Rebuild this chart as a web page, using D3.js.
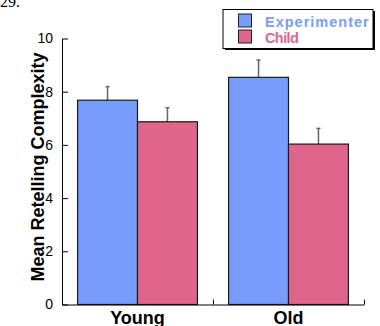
<!DOCTYPE html>
<html>
<head>
<meta charset="utf-8">
<script src="https://cdn.jsdelivr.net/npm/d3@7"></script>
<style>
  body { margin: 0; background: #fff; }
  svg { display: block; font-family: "Liberation Sans", Arial, sans-serif; }
</style>
</head>
<body>
<div class="chart-container"></div>
<script>
// Data
var groups = ["Young", "Old"];
var series = ["Experimenter", "Child"];
var experimenterMeans = [7.68, 8.54];
var childMeans = [6.87, 6.03];
var experimenterErr = [0.51, 0.65];
var childErr = [0.53, 0.59];
var yTicks = [0, 2, 4, 6, 8, 10];

var colors = { Experimenter: "#789cfb", Child: "#df658a" };

var W = 380, H = 326;
var x0 = 62, x1 = 364, yBottom = 304.5, yTop = 38.5;

var svg = d3.select(".chart-container").append("svg")
    .attr("width", W)
    .attr("height", H);

// Scales
var x = d3.scaleBand().domain(groups).range([x0, x1]).paddingInner(0).paddingOuter(0);
var xs = d3.scaleBand().domain(series).range([0, x.bandwidth()]).paddingOuter(0.26).paddingInner(0);
var y = d3.scaleLinear().domain([0, 10]).range([yBottom, yTop]);

// Build rows for bars
var rows = [];
groups.forEach(function(g, i) {
    rows.push({ group: g, series: "Experimenter", value: experimenterMeans[i], err: experimenterErr[i] });
    rows.push({ group: g, series: "Child", value: childMeans[i], err: childErr[i] });
});

// Error bars (upward only)
var eb = svg.append("g").attr("class", "errors")
    .attr("stroke", "#666").attr("stroke-width", 1.5);
rows.forEach(function(d) {
    var cx = x(d.group) + xs(d.series) + xs.bandwidth() / 2;
    eb.append("line")
        .attr("x1", cx).attr("x2", cx)
        .attr("y1", y(d.value)).attr("y2", y(d.value + d.err));
    eb.append("line")
        .attr("x1", cx - 2).attr("x2", cx + 2)
        .attr("y1", y(d.value + d.err)).attr("y2", y(d.value + d.err));
});

// Bars
svg.append("g").selectAll("rect")
    .data(rows)
    .enter().append("rect")
    .attr("x", function(d) { return x(d.group) + xs(d.series); })
    .attr("width", xs.bandwidth())
    .attr("y", function(d) { return y(d.value); })
    .attr("height", function(d) { return yBottom - y(d.value); })
    .attr("fill", function(d) { return colors[d.series]; })
    .attr("stroke", "#1a1a1a")
    .attr("stroke-width", 1.2);

// Y axis, ticks pointing inward
var yAxis = svg.append("g")
    .attr("transform", "translate(" + x0 + ",0)")
    .call(d3.axisLeft(y).tickValues(yTicks).tickSizeInner(-6).tickSizeOuter(0).tickPadding(9));
yAxis.selectAll("text").attr("font-size", 14).attr("fill", "#000").attr("font-family", "Liberation Sans, Arial, sans-serif");
yAxis.selectAll("line, path").attr("stroke", "#000");

// X axis: boundary ticks pointing up
var xEdge = d3.scaleLinear().domain([0, groups.length]).range([x0, x1]);
var xAxis = svg.append("g")
    .attr("transform", "translate(0," + yBottom + ")")
    .call(d3.axisBottom(xEdge).tickValues([0, 1, 2]).tickSizeInner(-5).tickSizeOuter(0).tickFormat(""));
xAxis.selectAll("line, path").attr("stroke", "#000");

// X labels
var xLabels = svg.append("g")
    .attr("transform", "translate(0," + yBottom + ")")
    .call(d3.axisBottom(x).tickSize(0).tickPadding(7));
xLabels.select(".domain").remove();
xLabels.selectAll("text")
    .attr("font-size", 18).attr("font-weight", "bold").attr("fill", "#000")
    .attr("font-family", "Liberation Sans, Arial, sans-serif");

// Y label
svg.append("text")
    .attr("transform", "translate(44," + 167 + ") rotate(-90)")
    .attr("text-anchor", "middle")
    .attr("font-size", 18)
    .attr("font-weight", "bold")
    .text("Mean Retelling Complexity");

// Legend with drop shadow
var lg = svg.append("g").attr("class", "legend");
lg.append("rect").attr("x", 225).attr("y", 11).attr("width", 150).attr("height", 39).attr("fill", "#000");
lg.append("rect").attr("x", 223).attr("y", 9.5).attr("width", 150).attr("height", 39)
    .attr("fill", "#fff").attr("stroke", "#000").attr("stroke-width", 1);
series.forEach(function(s, i) {
    lg.append("rect")
        .attr("x", 238.5).attr("y", 14 + i * 16)
        .attr("width", 13).attr("height", 13)
        .attr("fill", colors[s]).attr("stroke", "#222").attr("stroke-width", 1);
    lg.append("text")
        .attr("x", 265).attr("y", 26.5 + i * 16)
        .attr("font-size", 14.5).attr("font-weight", "bold")
        .attr("letter-spacing", i === 0 ? 1 : -0.6)
        .attr("fill", colors[s])
        .text(s);
});

// Page fragment at top-left
svg.append("text")
    .attr("x", 0).attr("y", 7)
    .attr("font-family", "Liberation Serif, Times New Roman, serif")
    .attr("font-size", 16)
    .text("29.");
</script>
</body>
</html>
